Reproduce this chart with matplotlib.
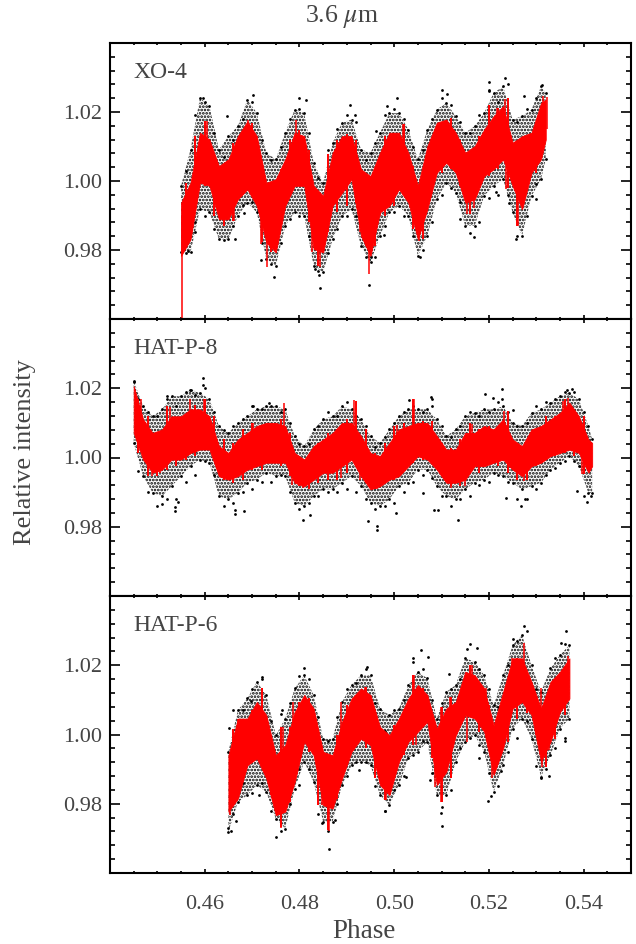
import matplotlib
matplotlib.use('Agg')
import matplotlib.pyplot as plt
from matplotlib.ticker import MultipleLocator, FixedLocator

plt.rcParams['font.family'] = ['Liberation Serif', 'DejaVu Serif']
plt.rcParams['mathtext.fontset'] = 'stix'
plt.rcParams['hatch.linewidth'] = 1.3
plt.rcParams['hatch.color'] = 'black'

TXT = '#444444'
names = ['XO-4', 'HAT-P-8', 'HAT-P-6']
ytick_vals = [0.98, 1.00, 1.02]
xtick_vals = [0.46, 0.48, 0.50, 0.52, 0.54]

# XO-4, envelopes
phase1 = [.455,.457,.459,.461,.463,.465,.467,.469,.471,.473,.475,.477,.479,.481,.483,.485,.487,.489,.491,.493,
          .495,.497,.499,.501,.503,.505,.507,.509,.511,.513,.515,.517,.519,.521,.523,.525,.527,.529,.531,.532]
red_hi1 = [.9937,.9995,1.0140,1.0120,1.0043,1.0063,1.0130,1.0173,1.0130,.9995,1.0005,1.0063,1.0140,1.0130,.9986,.9957,1.0082,1.0130,1.0130,1.0034,
           1.0014,1.0082,1.0140,1.0140,1.0082,.9986,1.0101,1.0169,1.0178,1.0140,1.0082,1.0101,1.0149,1.0188,1.0217,1.0111,1.0130,1.0140,1.0226,1.0236]
red_lo1 = [.9783,.9831,.9995,.9986,.9889,.9889,.9947,.9976,.9928,.9822,.9793,.9928,.9986,.9986,.9803,.9793,.9928,.9966,1.0005,.9841,
           .9783,.9909,.9928,.9976,.9937,.9831,.9918,1.0024,1.0053,1.0024,.9937,.9947,1.0014,1.0034,1.0063,.9986,.9918,1.0024,1.0063,1.0120]
blk_hi1 = [.9986,1.0091,1.0241,1.0217,1.0091,1.0130,1.0159,1.0236,1.0197,1.0082,1.0063,1.0140,1.0207,1.0197,1.0053,.9995,1.0111,1.0169,1.0178,1.0091,
           1.0082,1.0140,1.0197,1.0197,1.0149,1.0063,1.0149,1.0207,1.0226,1.0188,1.0140,1.0159,1.0197,1.0255,1.0274,1.0178,1.0188,1.0207,1.0274,1.0255]
blk_lo1 = [.9793,.9793,.9918,.9909,.9831,.9831,.9899,.9937,.9909,.9774,.9754,.9870,.9909,.9899,.9754,.9735,.9831,.9899,.9918,.9812,
           .9764,.9841,.9909,.9928,.9899,.9783,.9841,.9947,.9995,.9966,.9870,.9870,.9957,.9986,1.0005,.9909,.9841,.9957,1.0005,1.0063]
mid1 = [.456,.458,.460,.462,.464,.466,.468,.470,.472,.474,.476,.478,.480,.482,.484,.486,.488,.490,.492,.494,
        .496,.498,.500,.502,.504,.506,.508,.510,.512,.514,.516,.518,.520,.522,.524,.526,.528,.530]
tooth_hi1 = [.9995,1.0130,1.0173,1.0072,1.0024,1.0111,1.0144,1.0169,1.0053,.9995,1.0034,1.0120,1.0149,1.0091,.9957,1.0077,1.0120,1.0135,1.0120,1.0014,
             1.0024,1.0130,1.0140,1.0164,1.0043,1.0029,1.0120,1.0169,1.0183,1.0120,1.0082,1.0130,1.0221,1.0212,1.0241,1.0091,1.0130,1.0159]
tooth_lo1 = [.9822,.9976,.9986,.9899,.9870,.9884,.9966,1.0005,.9822,.9793,.9899,.9957,.9986,.9880,.9754,.9851,.9909,.9928,.9937,.9812,
             .9812,.9899,.9928,.9966,.9860,.9831,.9976,1.0024,1.0034,.9986,.9904,1.0005,1.0014,1.0034,.9981,.9870,.9995,1.0024]
edge_hi1 = [1.0030,1.0190,1.0230,1.0140,1.0070,1.0120,1.0180,1.0230,1.0120,1.0060,1.0100,1.0180,1.0210,1.0140,1.0010,1.0090,1.0150,1.0190,1.0170,1.0060,
            1.0110,1.0190,1.0210,1.0180,1.0100,1.0090,1.0180,1.0240,1.0220,1.0170,1.0140,1.0190,1.0260,1.0230,1.0280,1.0170,1.0210,1.0240]
edge_lo1 = [.9790,.9880,.9900,.9860,.9830,.9870,.9930,.9940,.9820,.9760,.9820,.9890,.9900,.9840,.9740,.9790,.9860,.9900,.9900,.9780,
            .9780,.9870,.9910,.9900,.9840,.9800,.9880,.9960,.9980,.9940,.9850,.9880,.9950,.9960,.9960,.9840,.9900,.9990]
out_x1 = [.4747,.4844,.4946,.4596,.4701,.4799,.4906,.4646,.4663,.4580,.4564,.4682,.4718,.4832,.4842,.4918,.4813,
          .4951,.4984,.5006,.4961,.4978,.5054,.5101,.5112,.5200,.5235,.5201,.5169,.5139,.5242,.5257,.5313,.5274,.5300,.5216]
out_y1 = [.9721,.9689,.9700,1.0241,1.0248,1.0241,1.0221,1.0188,.9831,.9853,.9797,.9908,.9771,.9745,.9727,1.0190,1.0234,
          .9779,1.0217,1.0241,1.0146,.9844,.9781,1.0265,1.0253,1.0286,1.0299,1.0263,.9837,.9889,.9937,.9831,1.0277,1.0246,.9949,.9968]
sp_x1 = [.4551,.4605,.4691,.4792,.4732,.4843,.4947,.4661,.4718,.4827,.4928,.5019,.5201,.5218,.5235,.5315,.5322,.5052,.4954,.5154,.5168,.5237,.5262,.4971]
sp_a1 = [.9900,1.0080,1.0080,1.0080,.9890,.9900,.9880,.9960,.9900,.9890,.9930,1.0060,1.0120,1.0120,1.0120,1.0150,1.0150,.9900,.9900,.9990,1.0000,1.0040,.9960,.9990]
sp_b1 = [.9603,1.0173,1.0176,1.0178,.9752,.9750,.9730,.9884,.9817,.9793,.9851,1.0164,1.0221,1.0212,1.0238,1.0247,1.0244,.9827,.9812,.9904,.9923,.9978,.9870,.9899]

# HAT-P-8
phase2 = [.445,.447,.449,.451,.453,.455,.457,.459,.461,.463,.465,.467,.469,.471,.473,.475,.477,.479,.481,.483,.485,.487,.489,.491,.493,.495,
          .497,.499,.501,.503,.505,.507,.509,.511,.513,.515,.517,.519,.521,.523,.525,.527,.529,.531,.533,.535,.537,.539,.541,.5418]
red_hi2 = [1.0206,1.0110,1.0071,1.0081,1.0119,1.0119,1.0139,1.0139,1.0119,1.0033,1.0013,1.0052,1.0071,1.0091,1.0100,1.0100,1.0091,1.0013,.9994,1.0033,1.0052,1.0071,1.0100,1.0100,1.0062,1.0013,
           1.0004,1.0042,1.0081,1.0091,1.0100,1.0100,1.0062,1.0023,1.0023,1.0071,1.0071,1.0091,1.0081,1.0110,1.0052,1.0033,1.0081,1.0091,1.0110,1.0129,1.0158,1.0119,1.0052,1.0042]
red_lo2 = [1.0071,.9994,.9956,.9965,.9994,.9994,1.0013,1.0023,1.0023,.9946,.9936,.9946,.9965,.9975,.9985,.9985,.9985,.9927,.9917,.9936,.9956,.9956,.9975,.9994,.9946,.9908,
           .9917,.9936,.9946,.9975,1.0004,.9994,.9965,.9927,.9927,.9936,.9975,.9975,.9985,.9994,.9965,.9946,.9975,.9985,1.0004,1.0013,1.0023,1.0013,.9956,.9975]
blk_hi2 = [1.0221,1.0148,1.0119,1.0139,1.0177,1.0177,1.0196,1.0187,1.0168,1.0091,1.0071,1.0100,1.0119,1.0139,1.0148,1.0148,1.0139,1.0062,1.0033,1.0081,1.0110,1.0119,1.0148,1.0139,1.0110,1.0062,
           1.0042,1.0081,1.0119,1.0139,1.0139,1.0139,1.0110,1.0062,1.0081,1.0119,1.0129,1.0139,1.0139,1.0148,1.0100,1.0091,1.0129,1.0139,1.0158,1.0177,1.0187,1.0168,1.0091,1.0052]
blk_lo2 = [1.0042,.9946,.9898,.9888,.9917,.9946,.9975,.9994,.9985,.9888,.9879,.9898,.9927,.9936,.9956,.9946,.9946,.9869,.9859,.9888,.9908,.9908,.9927,.9946,.9917,.9869,
           .9859,.9879,.9917,.9927,.9965,.9965,.9917,.9888,.9879,.9908,.9927,.9936,.9956,.9946,.9927,.9908,.9917,.9927,.9965,.9985,1.0004,.9975,.9898,.9898]
mid2 = [.446,.448,.450,.452,.454,.456,.458,.460,.462,.464,.466,.468,.470,.472,.474,.476,.478,.480,.482,.484,.486,.488,.490,.492,.494,.496,
        .498,.500,.502,.504,.506,.508,.510,.512,.514,.516,.518,.520,.522,.524,.526,.528,.530,.532,.534,.536,.538,.540]
tooth_hi2 = [1.0168,1.0119,1.0042,1.0148,1.0091,1.0110,1.0153,1.0168,1.0119,1.0052,1.0042,1.0081,1.0100,1.0095,1.0091,1.0110,1.0071,1.0004,.9994,1.0042,1.0071,1.0081,1.0110,1.0163,1.0081,1.0013,
             1.0042,1.0091,1.0100,1.0168,1.0105,1.0105,1.0042,1.0028,1.0052,1.0100,1.0081,1.0091,1.0091,1.0134,1.0042,1.0042,1.0081,1.0119,1.0119,1.0168,1.0129,1.0119]
tooth_lo2 = [1.0013,.9946,.9946,.9965,.9975,.9994,1.0004,1.0023,1.0013,.9936,.9927,.9936,.9965,.9965,.9985,.9975,.9946,.9917,.9908,.9927,.9936,.9936,.9956,.9975,.9927,.9908,
             .9927,.9936,.9965,.9985,.9994,.9985,.9946,.9917,.9917,.9956,.9956,.9985,.9975,.9956,.9936,.9936,.9975,.9994,1.0004,1.0013,1.0004,.9951]
edge_hi2 = [1.0170,1.0130,1.0120,1.0170,1.0150,1.0190,1.0180,1.0200,1.0130,1.0080,1.0090,1.0110,1.0150,1.0140,1.0150,1.0130,1.0100,1.0040,1.0040,1.0090,1.0130,1.0120,1.0160,1.0120,1.0090,1.0030,
            1.0060,1.0100,1.0130,1.0150,1.0130,1.0150,1.0090,1.0060,1.0090,1.0130,1.0120,1.0130,1.0160,1.0130,1.0090,1.0100,1.0150,1.0160,1.0170,1.0190,1.0190,1.0130]
edge_lo2 = [.9960,.9900,.9860,.9880,.9880,.9930,.9950,.9990,.9950,.9860,.9870,.9900,.9910,.9930,.9930,.9950,.9900,.9850,.9870,.9890,.9900,.9900,.9910,.9900,.9880,.9850,
            .9860,.9870,.9900,.9930,.9950,.9940,.9890,.9860,.9880,.9890,.9920,.9930,.9950,.9930,.9880,.9880,.9910,.9950,.9970,.9990,.9990,.9890]
out_x2 = [.4450,.4596,.4596,.4520,.4568,.4537,.4537,.4544,.4510,.4664,.4664,.4683,.4808,.4822,.4964,.4964,.4944,.4701,.4735,
          .5003,.5031,.5077,.5079,.5085,.5093,.5135,.5191,.5208,.5228,.5228,.5251,.5237,.5268,.5277,.5375,.5365,.5408,.5415,.5385,.5061]
out_y2 = [1.0219,1.0230,1.0208,1.0179,1.0195,.9857,.9846,.9872,.9866,.9848,.9836,.9845,.9819,.9835,.9802,.9792,.9816,1.0150,1.0158,
          .9840,1.0165,1.0175,1.0168,.9849,.9849,.9820,1.0182,1.0172,1.0198,1.0168,1.0138,.9883,.9859,.9879,1.0199,1.0195,.9872,.9888,.9903,.9898]
sp_x2 = [.4465,.4527,.4568,.4598,.4767,.4916,.4489,.4505,.4630,.4785,.4808,.4927,.4887,.4701,.5042,.5232,.5367,.5357,.5006,.5165,.5119,.5149,.4964,.5274,.5397,.5401]
sp_a2 = [1.0050,1.0050,1.0070,1.0070,1.0050,1.0060,1.0000,1.0000,1.0000,.9980,.9970,.9990,1.0000,1.0030,1.0060,1.0040,1.0090,1.0080,1.0030,1.0030,.9970,.9980,.9960,.9990,1.0000,1.0050]
sp_b2 = [1.0168,1.0146,1.0169,1.0168,1.0156,1.0165,.9946,.9956,.9949,.9922,.9912,.9936,.9941,1.0100,1.0169,1.0134,1.0172,1.0163,1.0095,1.0098,.9912,.9917,.9908,.9932,.9951,1.0119]

# HAT-P-6
phase3 = [.465,.467,.469,.471,.473,.475,.477,.479,.481,.483,.485,.487,.489,.491,.493,.495,
          .497,.499,.501,.503,.505,.507,.509,.511,.513,.515,.517,.519,.521,.523,.525,.527,.529,.531,.533,.535,.537]
red_hi3 = [.9940,1.0046,1.0046,1.0094,1.0056,.9940,.9969,1.0065,1.0114,1.0075,.9950,.9940,1.0037,1.0104,1.0133,1.0114,
           1.0022,.9998,1.0046,1.0104,1.0143,1.0114,1.0017,1.0075,1.0094,1.0181,1.0171,1.0133,1.0027,1.0123,1.0220,1.0220,1.0152,1.0075,1.0152,1.0181,1.0220]
red_lo3 = [.9777,.9815,.9911,.9931,.9873,.9767,.9777,.9863,.9979,.9940,.9796,.9786,.9873,.9950,.9988,.9969,
           .9854,.9825,.9921,.9979,1.0008,1.0037,.9854,.9892,.9998,1.0056,1.0046,1.0008,.9883,.9960,1.0075,1.0094,1.0056,.9921,.9979,1.0065,1.0104]
blk_hi3 = [.9950,1.0070,1.0104,1.0152,1.0114,.9998,1.0046,1.0133,1.0171,1.0114,.9988,.9988,1.0094,1.0143,1.0171,1.0171,
           1.0075,1.0056,1.0075,1.0143,1.0181,1.0162,1.0046,1.0123,1.0143,1.0220,1.0210,1.0171,1.0085,1.0171,1.0258,1.0287,1.0200,1.0123,1.0191,1.0229,1.0258]
blk_lo3 = [.9719,.9805,.9825,.9854,.9834,.9757,.9728,.9844,.9921,.9863,.9748,.9748,.9854,.9911,.9921,.9911,
           .9825,.9796,.9854,.9931,.9950,.9979,.9825,.9825,.9921,.9979,.9998,.9950,.9834,.9911,1.0017,1.0046,.9988,.9878,.9940,1.0017,1.0046]
mid3 = [.466,.468,.470,.472,.474,.476,.478,.480,.482,.484,.486,.488,.490,.492,.494,.496,
        .498,.500,.502,.504,.506,.508,.510,.512,.514,.516,.518,.520,.522,.524,.526,.528,.530,.532,.534,.536]
tooth_hi3 = [1.0017,1.0046,1.0070,1.0133,.9998,1.0022,1.0022,1.0094,1.0104,1.0017,.9931,.9998,1.0085,1.0114,1.0138,1.0017,
             .9950,1.0027,1.0075,1.0171,1.0133,1.0046,1.0080,1.0109,1.0114,1.0202,1.0133,1.0085,1.0032,1.0133,1.0221,1.0162,1.0080,1.0017,1.0157,1.0181]
tooth_lo3 = [.9815,.9883,.9931,.9911,.9825,.9733,.9805,.9940,.9950,.9796,.9724,.9815,.9911,.9979,.9960,.9873,
             .9810,.9883,.9940,.9969,1.0027,.9931,.9805,.9873,1.0037,1.0075,1.0008,.9969,.9931,.9979,1.0046,1.0061,.9998,.9907,.9988,1.0056]
edge_hi3 = [1.0070,1.0070,1.0130,1.0160,1.0040,1.0060,1.0090,1.0170,1.0160,1.0050,.9980,1.0050,1.0130,1.0150,1.0190,1.0090,
            1.0010,1.0070,1.0100,1.0210,1.0190,1.0100,1.0090,1.0130,1.0160,1.0260,1.0190,1.0130,1.0080,1.0200,1.0270,1.0300,1.0130,1.0080,1.0220,1.0260]
edge_lo3 = [.9770,.9860,.9830,.9860,.9780,.9720,.9800,.9900,.9900,.9770,.9720,.9800,.9880,.9920,.9920,.9850,
            .9780,.9840,.9880,.9940,.9980,.9890,.9790,.9840,.9960,.9990,.9970,.9890,.9850,.9950,.9990,1.0040,.9910,.9900,.9960,.9990]
out_x3 = [.4651,.4649,.4656,.4665,.4751,.4810,.4863,.4943,.4720,.4763,.4799,.4848,.4876,.4925,.4715,.4697,
          .4981,.5056,.5071,.5024,.5039,.5100,.5098,.5075,.5116,.5153,.5174,.5199,.5205,.5179,.5275,.5362,.5251,.5327,.5361,.5353,.5225,.5309]
out_y3 = [1.0020,.9731,.9721,.9749,.9705,1.0193,.9668,1.0194,1.0167,1.0071,.9853,.9745,.9754,.9897,.9825,1.0097,
          .9778,1.0243,1.0223,.9878,1.0220,.9737,.9774,.9870,1.0175,1.0246,1.0250,.9809,.9823,.9931,1.0312,1.0299,1.0277,.9880,.9982,1.0265,.9895,.9875]
sp_x3 = [.4654,.4670,.4721,.4760,.4765,.4787,.4863,.4939,.4777,.4848,.4887,.4982,.5042,.5098,.5099,.5117,.5121,.5087,.5154,.5165,.5206,.5274,.5248,.5310,.5313,.5327,.5368,.5046,.5193]
sp_a3 = [.9880,.9950,1.0040,.9880,.9920,.9980,.9880,1.0040,.9900,.9880,.9990,.9920,1.0080,.9950,.9920,.9980,.9950,.9950,1.0060,1.0100,.9960,1.0150,1.0120,1.0040,.9990,1.0020,1.0140,1.0060,1.0060]
sp_b3 = [.9767,1.0046,1.0133,.9731,1.0022,1.0094,.9721,1.0138,.9801,.9796,1.0094,.9810,1.0171,1.0080,.9805,1.0109,.9873,.9849,.9979,1.0202,.9875,1.0265,1.0221,1.0135,.9907,.9955,1.0226,.9969,1.0133]

panels = [
    (phase1, red_hi1, red_lo1, blk_hi1, blk_lo1, out_x1, out_y1, sp_x1, sp_a1, sp_b1, mid1, tooth_hi1, tooth_lo1, edge_hi1, edge_lo1),
    (phase2, red_hi2, red_lo2, blk_hi2, blk_lo2, out_x2, out_y2, sp_x2, sp_a2, sp_b2, mid2, tooth_hi2, tooth_lo2, edge_hi2, edge_lo2),
    (phase3, red_hi3, red_lo3, blk_hi3, blk_lo3, out_x3, out_y3, sp_x3, sp_a3, sp_b3, mid3, tooth_hi3, tooth_lo3, edge_hi3, edge_lo3),
]
tops = [43, 319, 596]
bottoms = [319, 596, 873]

fig = plt.figure(figsize=(6.36, 9.44), dpi=100)
for i, (ph, rh, rl, bh, bl, ox, oy, sx, sa, sb, mx, th, tl, eh, el) in enumerate(panels):
    ax = fig.add_axes([110/636, 1-bottoms[i]/944, 521/636, (bottoms[i]-tops[i])/944])
    ax.fill_between(ph, bl, bh, facecolor='none', edgecolor='black', hatch='.....', linewidth=0, zorder=1)
    ax.scatter(ox + ph + ph + mx + mx, oy + bh + bl + eh + el, s=4, c='black', linewidths=0, zorder=2)
    ax.fill_between(ph, rl, rh, color='#ff0000', linewidth=0.6, zorder=3)
    ax.vlines(mx, tl, th, color='#ff0000', linewidth=1.4, zorder=3)
    ax.vlines(sx, sa, sb, color='#ff0000', linewidth=1.1, zorder=3)
    ax.set_xlim(0.44, 0.55)
    ax.set_ylim(0.96, 1.04)
    ax.xaxis.set_major_locator(FixedLocator(xtick_vals))
    ax.xaxis.set_minor_locator(MultipleLocator(0.005))
    ax.yaxis.set_major_locator(FixedLocator(ytick_vals))
    ax.yaxis.set_minor_locator(MultipleLocator(0.004))
    ax.tick_params(axis='x', which='major', direction='in', top=True, bottom=True, length=3.2, width=1.2, pad=16, labelsize=16, labelcolor=TXT)
    ax.tick_params(axis='x', which='minor', direction='in', top=True, bottom=True, length=1.6, width=1.2)
    ax.tick_params(axis='y', which='major', direction='in', left=True, right=True, length=7.2, width=1.2, pad=5.5, labelsize=16, labelcolor=TXT)
    ax.tick_params(axis='y', which='minor', direction='in', left=True, right=True, length=3.6, width=1.2)
    ax.set_yticklabels(['0.98', '1.00', '1.02'])
    if i < 2:
        ax.tick_params(axis='x', which='major', labelbottom=False)
    else:
        ax.set_xticklabels(['0.46', '0.48', '0.50', '0.52', '0.54'])
    for s in ax.spines.values():
        s.set_linewidth(1.5)
    ax.text(133/636, 1-(tops[i]+35)/944, names[i], transform=fig.transFigure, fontsize=17, color=TXT, va='baseline')

fig.text(342/636, 1-17/944, '3.6 $\\mu$m', fontsize=18.5, color=TXT, ha='center', va='center')
fig.text(364/636, 1-932/944, 'Phase', fontsize=19.5, color=TXT, ha='center', va='center')
fig.text(25/636, 1-452/944, 'Relative intensity', fontsize=19, color=TXT, rotation=90, ha='center', va='center')

fig.savefig('out.png', dpi=100)
